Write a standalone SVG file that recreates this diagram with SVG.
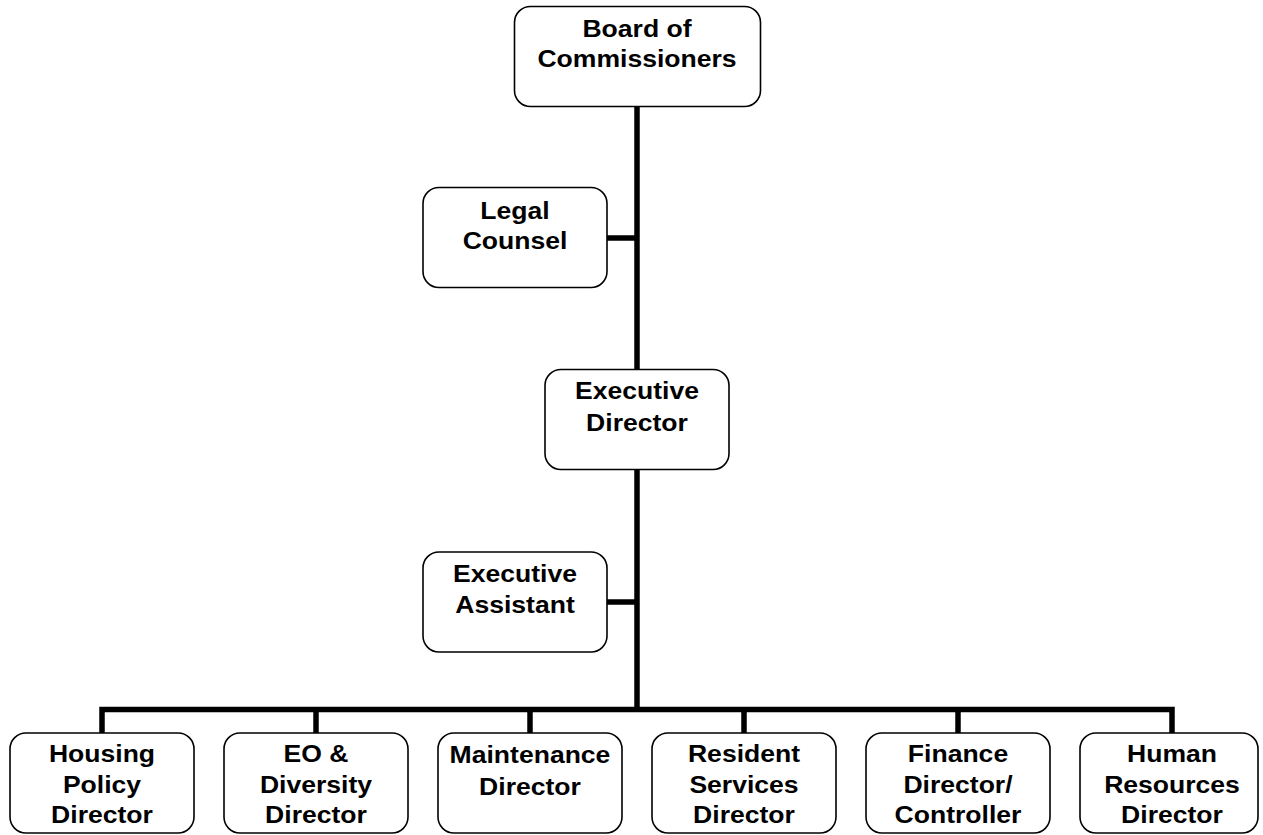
<svg xmlns="http://www.w3.org/2000/svg" width="1263" height="835" viewBox="0 0 1263 835">
<style>
.box{fill:#fff;stroke:#000;stroke-width:1.6}
.t{font-family:"Liberation Sans",Arial,sans-serif;font-weight:bold;font-size:23.5px;text-anchor:middle;fill:#000}
.c{stroke:#000;stroke-width:5.5;fill:none;stroke-linecap:butt}
</style>
<rect width="1263" height="835" fill="#fff"/>
<g id="connectors">
<line class="c" x1="637" y1="106" x2="637" y2="709"/>
<line class="c" x1="607" y1="238" x2="637" y2="238"/>
<line class="c" x1="607" y1="602" x2="637" y2="602"/>
<polyline class="c" points="102,733 102,709.5 1172,709.5 1172,733"/>
<line class="c" x1="316" y1="709" x2="316" y2="733"/>
<line class="c" x1="530" y1="709" x2="530" y2="733"/>
<line class="c" x1="744" y1="709" x2="744" y2="733"/>
<line class="c" x1="958" y1="709" x2="958" y2="733"/>
</g>
<g id="board">
<rect class="box" x="514.5" y="6.5" width="246" height="100" rx="16"/>
<g transform="translate(637 0) scale(1.13 1)">
<text class="t" x="0" y="37.5">Board of</text>
<text class="t" x="0" y="67">Commissioners</text>
</g>
</g>
<g id="legal">
<rect class="box" x="423" y="187.5" width="184" height="100" rx="16"/>
<g transform="translate(515 0) scale(1.13 1)">
<text class="t" x="0" y="219">Legal</text>
<text class="t" x="0" y="249">Counsel</text>
</g>
</g>
<g id="exec-director">
<rect class="box" x="545" y="369.5" width="184" height="100" rx="16"/>
<g transform="translate(637 0) scale(1.13 1)">
<text class="t" x="0" y="399">Executive</text>
<text class="t" x="0" y="431">Director</text>
</g>
</g>
<g id="exec-assistant">
<rect class="box" x="423" y="552" width="184" height="100" rx="16"/>
<g transform="translate(515 0) scale(1.13 1)">
<text class="t" x="0" y="582">Executive</text>
<text class="t" x="0" y="613">Assistant</text>
</g>
</g>
<g id="housing">
<rect class="box" x="10" y="733" width="184" height="100" rx="16"/>
<g transform="translate(102 0) scale(1.13 1)">
<text class="t" x="0" y="762">Housing</text>
<text class="t" x="0" y="793">Policy</text>
<text class="t" x="0" y="823">Director</text>
</g>
</g>
<g id="eo">
<rect class="box" x="224" y="733" width="184" height="100" rx="16"/>
<g transform="translate(316 0) scale(1.13 1)">
<text class="t" x="0" y="762">EO &amp;</text>
<text class="t" x="0" y="793">Diversity</text>
<text class="t" x="0" y="823">Director</text>
</g>
</g>
<g id="maintenance">
<rect class="box" x="438" y="733" width="184" height="100" rx="16"/>
<g transform="translate(530 0) scale(1.13 1)">
<text class="t" x="0" y="763">Maintenance</text>
<text class="t" x="0" y="795">Director</text>
</g>
</g>
<g id="resident">
<rect class="box" x="652" y="733" width="184" height="100" rx="16"/>
<g transform="translate(744 0) scale(1.13 1)">
<text class="t" x="0" y="762">Resident</text>
<text class="t" x="0" y="793">Services</text>
<text class="t" x="0" y="823">Director</text>
</g>
</g>
<g id="finance">
<rect class="box" x="866" y="733" width="184" height="100" rx="16"/>
<g transform="translate(958 0) scale(1.13 1)">
<text class="t" x="0" y="762">Finance</text>
<text class="t" x="0" y="793">Director/</text>
<text class="t" x="0" y="823">Controller</text>
</g>
</g>
<g id="hr">
<rect class="box" x="1080" y="733" width="178" height="100" rx="16"/>
<g transform="translate(1172 0) scale(1.13 1)">
<text class="t" x="0" y="762">Human</text>
<text class="t" x="0" y="793">Resources</text>
<text class="t" x="0" y="823">Director</text>
</g>
</g>
</svg>
